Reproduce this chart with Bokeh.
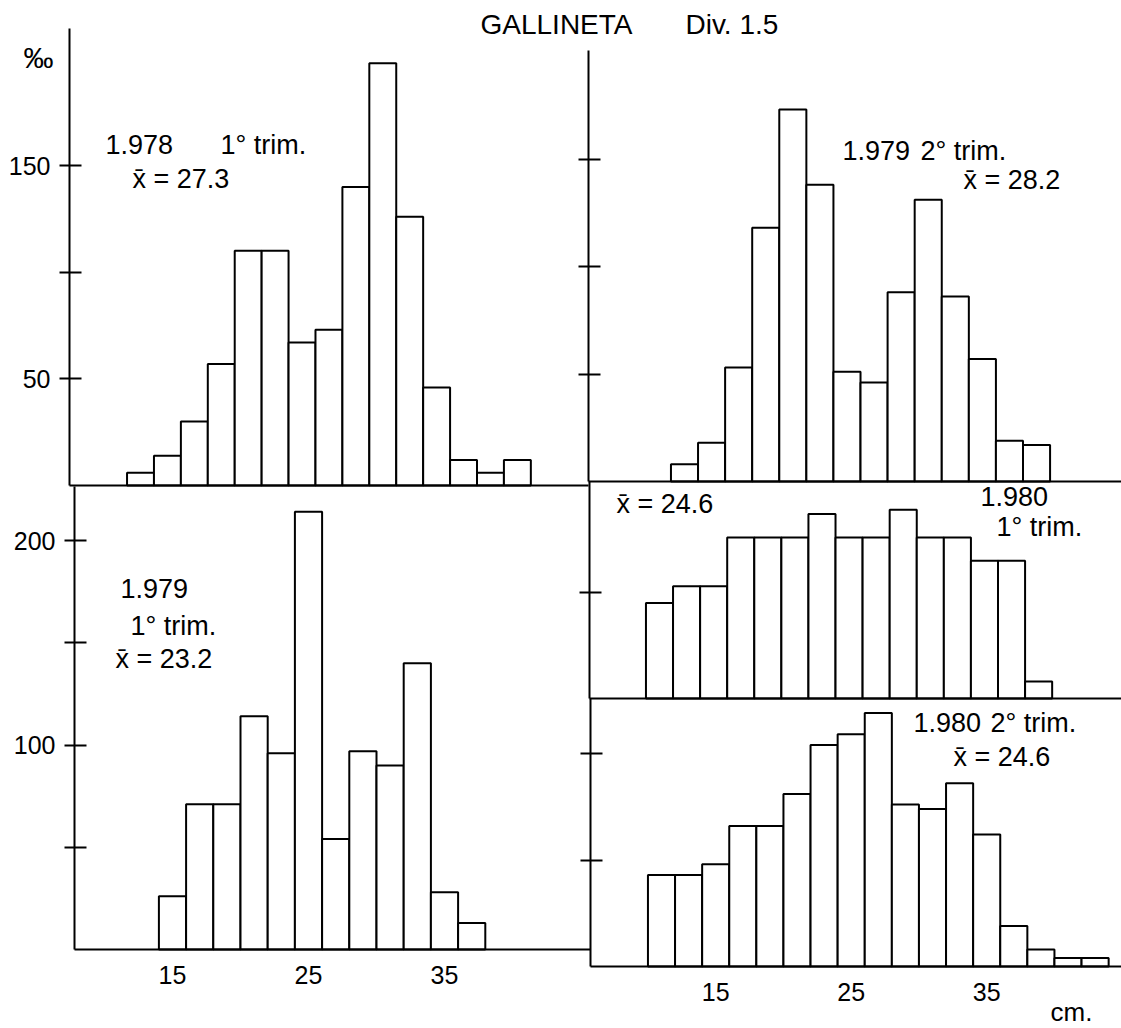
from bokeh.plotting import figure
from bokeh.models import Range1d, LinearAxis, FixedTicker, Label
from bokeh.embed import file_html
from bokeh.resources import INLINE

# ---------------- data (length class centres in cm, frequency in per mille) -------------
tl_len = [13, 15, 17, 19, 21, 23, 25, 27, 29, 31, 33, 35, 37, 39, 41]
tl_val = [6, 14, 30, 57, 110, 110, 67, 73, 140, 198, 126, 46, 12, 6, 12]      # 1.978 1° trim.

tr_len = [13, 15, 17, 19, 21, 23, 25, 27, 29, 31, 33, 35, 37, 39]
tr_val = [8, 18, 53, 118, 173, 138, 51, 46, 88, 131, 86, 57, 19, 17]          # 1.979 2° trim.

bl_len = [15, 17, 19, 21, 23, 25, 27, 29, 31, 33, 35, 37]
bl_val = [26, 71, 71, 114, 96, 214, 54, 97, 90, 140, 28, 13]                   # 1.979 1° trim.

mr_len = [11, 13, 15, 17, 19, 21, 23, 25, 27, 29, 31, 33, 35, 37, 39]
mr_val = [45, 53, 53, 76, 76, 76, 87, 76, 76, 89, 76, 76, 65, 65, 8]           # 1.980 1° trim.

br_len = [11, 13, 15, 17, 19, 21, 23, 25, 27, 29, 31, 33, 35, 37, 39, 41, 43]
br_val = [43, 43, 48, 66, 66, 81, 104, 109, 119, 76, 74, 86, 62, 19, 8, 4, 4]  # 1.980 2° trim.

x_ticks = [15, 25, 35]
x_tick_labels = ["15", "25", "35"]

# ---------------- layout geometry (page pixels) ----------------
W, H = 1121, 1028
M = 0
FONT = "Liberation Sans"

p = figure(width=W, height=H, output_backend="svg", toolbar_location=None,
           x_axis_location=None, y_axis_location=None, min_border=0,
           x_range=Range1d(M, M + W), y_range=Range1d(M + H, M),
           outline_line_color=None, title=None)
p.background_fill_color = "white"
p.border_fill_color = "white"
p.grid.visible = False


def xr(val, at_px, ppu):
    return Range1d(val - (at_px - M) / ppu, val + (M + W - at_px) / ppu)


def yr(val, at_py, ppu):
    return Range1d(val - (M + H - at_py) / ppu, val + (at_py - M) / ppu)


panels = {
    "tl": dict(xv=13, xp=140, xs=13.46, y0=485, ys=2.133, ax=69, top=28, right=588,
               ticks=[50, 100, 150], labels={50: "50", 150: "150"}, bottom=False,
               lens=tl_len, vals=tl_val),
    "bl": dict(xv=15, xp=172, xs=13.6, y0=949, ys=2.045, ax=74, top=486, right=590,
               ticks=[50, 100, 150, 200], labels={100: "100", 200: "200"}, bottom=True,
               lens=bl_len, vals=bl_val),
    "tr": dict(xv=13, xp=684, xs=13.54, y0=481, ys=2.15, ax=588, top=50, right=M + W,
               ticks=[50, 100, 150], labels=None, bottom=False,
               lens=tr_len, vals=tr_val),
    "mr": dict(xv=11, xp=659, xs=13.54, y0=698, ys=2.12, ax=589, top=481, right=M + W,
               ticks=[50], labels=None, bottom=False,
               lens=mr_len, vals=mr_val),
    "br": dict(xv=11, xp=661, xs=13.55, y0=966, ys=2.13, ax=590, top=698, right=M + W,
               ticks=[50, 100], labels=None, bottom=True,
               lens=br_len, vals=br_val),
}

for name, d in panels.items():
    xn, yn = name + "_x", name + "_y"
    p.extra_x_ranges[xn] = xr(d["xv"], d["xp"], d["xs"])
    p.extra_y_ranges[yn] = yr(0, d["y0"], d["ys"])

    p.vbar(x=d["lens"], width=2, bottom=0, top=d["vals"], x_range_name=xn, y_range_name=yn,
           fill_color="white", line_color="black", line_width=2)

    # vertical axis
    yax = LinearAxis(y_range_name=yn, fixed_location=d["ax"],
                     bounds=(0, (d["y0"] - d["top"]) / d["ys"]),
                     ticker=FixedTicker(ticks=d["ticks"]))
    yax.axis_line_width = 2
    yax.axis_line_color = "black"
    yax.major_tick_in = 12
    yax.major_tick_out = 10
    yax.major_tick_line_width = 2
    yax.minor_tick_line_color = None
    if d["labels"]:
        yax.major_label_overrides = {t: d["labels"].get(t, "") for t in d["ticks"]}
        yax.major_label_text_font = FONT
        yax.major_label_text_font_size = "25px"
        yax.major_label_text_color = "black"
        yax.major_label_standoff = 9
    else:
        yax.major_label_text_color = None
    p.add_layout(yax, "left")

    # horizontal base line / length axis
    x_lo = d["xv"] + (d["ax"] - d["xp"]) / d["xs"]
    x_hi = d["xv"] + (d["right"] - d["xp"]) / d["xs"]
    xax = LinearAxis(x_range_name=xn, y_range_name=yn, fixed_location=0,
                     bounds=(x_lo, x_hi),
                     ticker=FixedTicker(ticks=x_ticks if d["bottom"] else []))
    xax.axis_line_width = 2
    xax.axis_line_color = "black"
    xax.major_tick_in = 0
    xax.major_tick_out = 0
    xax.minor_tick_line_color = None
    if d["bottom"]:
        xax.major_label_overrides = dict(zip(x_ticks, x_tick_labels))
        xax.major_label_text_font = FONT
        xax.major_label_text_font_size = "25px"
        xax.major_label_text_color = "black"
        xax.major_label_standoff = 16
    else:
        xax.major_label_text_color = None
    p.add_layout(xax, "below")


def lab(text, x, y, size="27px", align="left"):
    p.add_layout(Label(x=x, y=y, text=text, text_font=FONT, text_font_size=size,
                       text_color="black", text_align=align, text_baseline="middle"))


# title and unit
lab("GALLINETA", 480, 24, "28px")
lab("Div. 1.5", 685, 24, "28px")
lab("‰", 23, 57, "30px")
lab("cm.", 1050, 1011, "26px")

# panel annotations
lab("1.978", 105, 144)
lab("1° trim.", 220, 144)
lab("x̄ = 27.3", 132, 178)

lab("1.979", 842, 150)
lab("2° trim.", 920, 150)
lab("x̄ = 28.2", 963, 179)

lab("1.979", 120, 588)
lab("1° trim.", 130, 625)
lab("x̄ = 23.2", 115, 658)

lab("x̄ = 24.6", 616, 503)
lab("1.980", 980, 496)
lab("1° trim.", 996, 526)

lab("1.980", 913, 722)
lab("2° trim.", 990, 722)
lab("x̄ = 24.6", 953, 756)

open("out.html", "w").write(file_html(p, INLINE))
